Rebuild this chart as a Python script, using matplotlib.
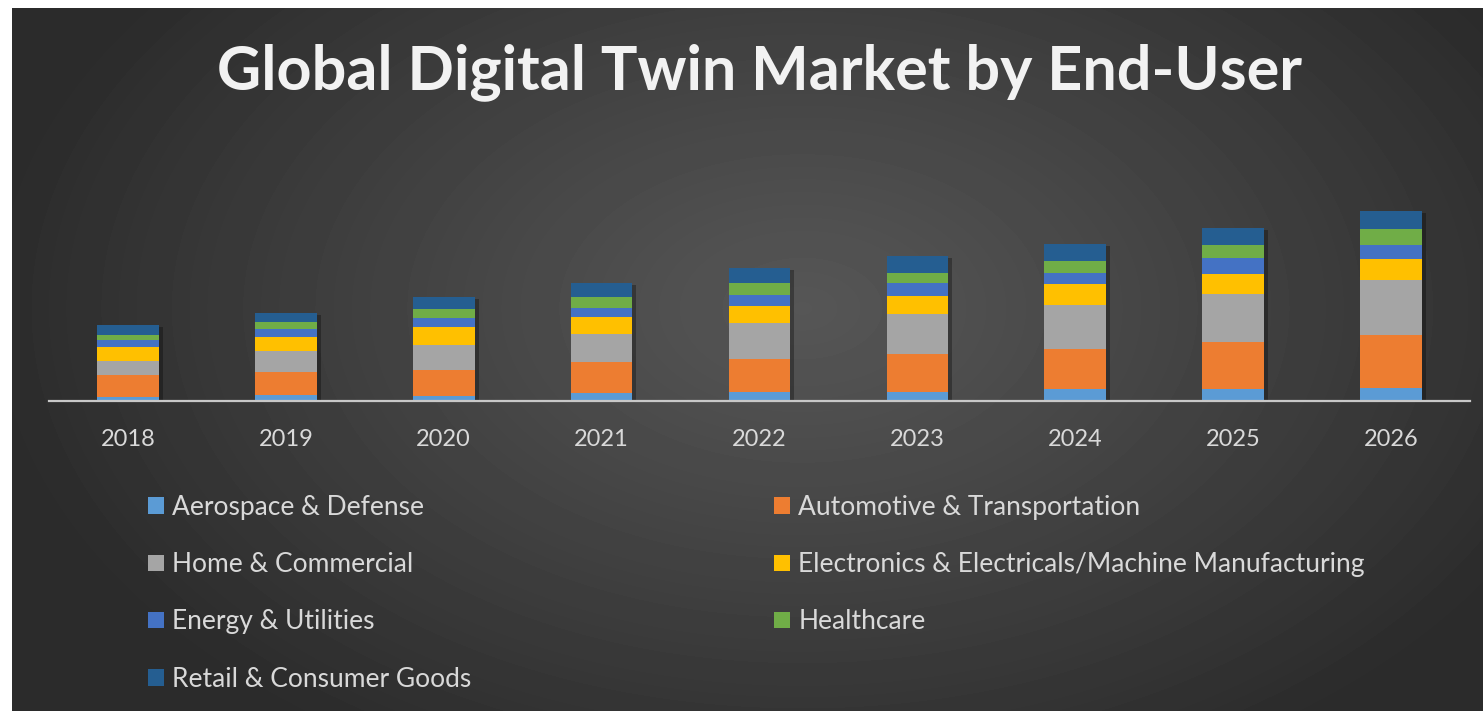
import numpy as np
import matplotlib.pyplot as plt
from matplotlib import transforms

# Market split by end-user (relative units)
years = ['2018', '2019', '2020', '2021', '2022', '2023', '2024', '2025', '2026']
aerospace = [4, 6, 5, 8, 9, 9, 12, 12, 13]
automotive = [22, 23, 26, 31, 33, 38, 40, 47, 53]
home = [14, 21, 25, 28, 36, 40, 44, 48, 55]
electronics = [14, 14, 18, 17, 17, 18, 21, 20, 21]
energy = [7, 8, 9, 9, 11, 13, 11, 16, 14]
healthcare = [5, 7, 9, 11, 12, 10, 12, 13, 16]
retail = [10, 9, 12, 14, 15, 17, 17, 17, 18]

segmentos = ['Aerospace & Defense', 'Automotive & Transportation', 'Home & Commercial',
             'Electronics & Electricals/Machine Manufacturing', 'Energy & Utilities',
             'Healthcare', 'Retail & Consumer Goods']
series = [aerospace, automotive, home, electronics, energy, healthcare, retail]
colores = ['#5B9BD5', '#ED7D31', '#A5A5A5', '#FFC000', '#4472C4', '#70AD47', '#255E91']

W, H = 1483, 711
fig = plt.figure(figsize=(W / 100, H / 100), dpi=100)
fig.patch.set_facecolor('white')

# Fondo oscuro con degradado radial
bg = fig.add_axes([12 / W, 0, 1 - 12 / W, 1 - 8 / H])
gx, gy = np.meshgrid(np.arange(W - 12), np.arange(H - 8))
r = np.sqrt(((gx - 790) / 820) ** 2 + ((gy - 300) / 520) ** 2)
v = 0x56 - (0x56 - 0x2b) * np.clip(r, 0, 1) ** 1.1
bg.imshow(v / 255, cmap='gray', vmin=0, vmax=1, aspect='auto')
bg.axis('off')

ax = fig.add_axes([49 / W, (H - 401) / H, 1421 / W, 221 / H])
ax.patch.set_alpha(0)
x = np.arange(len(years))

# Sombra suave detrás de cada columna apilada
totales = np.sum(series, axis=0)
desplaza = ax.transData + transforms.ScaledTranslation(4 / 100, -2 / 100, fig.dpi_scale_trans)
ax.bar(x, totales, 0.39, color='black', alpha=0.3, linewidth=0, transform=desplaza, zorder=1)

base = np.zeros(len(years))
barras = []
for nombre, vals, c in zip(segmentos, series, colores):
    b = ax.bar(x, vals, 0.39, bottom=base, color=c, label=nombre, linewidth=0, zorder=2)
    barras.append(b)
    base += np.array(vals)

ax.set_xlim(-0.5, 8.5)
ax.set_ylim(0, 221)
ax.set_xticks(x)
ax.set_xticklabels(years, fontsize=17, color='#d9d9d9', family='Lato')
ax.tick_params(axis='x', length=0, pad=20)
ax.set_yticks([])
for s in ['top', 'right', 'left']:
    ax.spines[s].set_visible(False)
ax.spines['bottom'].set_color('#c8c8c8')
ax.spines['bottom'].set_linewidth(1.6)
ax.spines['bottom'].set_zorder(3)

fig.text(760 / W, (H - 72) / H, 'Global Digital Twin Market by End-User',
         ha='center', va='center', fontsize=44, fontweight='bold',
         color='#f2f2f2', family='Lato')

# Leyenda en dos columnas (orden por filas)
orden = [0, 2, 4, 6, 1, 3, 5]
fig.legend([barras[i] for i in orden], [segmentos[i] for i in orden],
           ncol=2, loc='upper left', bbox_to_anchor=(148 / W, (H - 495) / H),
           frameon=False, labelcolor='#d9d9d9',
           prop={'family': 'Lato', 'size': 19},
           handlelength=0.6, handleheight=0.6, handletextpad=0.3,
           labelspacing=1.22, columnspacing=11.5, borderpad=0, borderaxespad=0)

plt.savefig('out.png', dpi=100)
